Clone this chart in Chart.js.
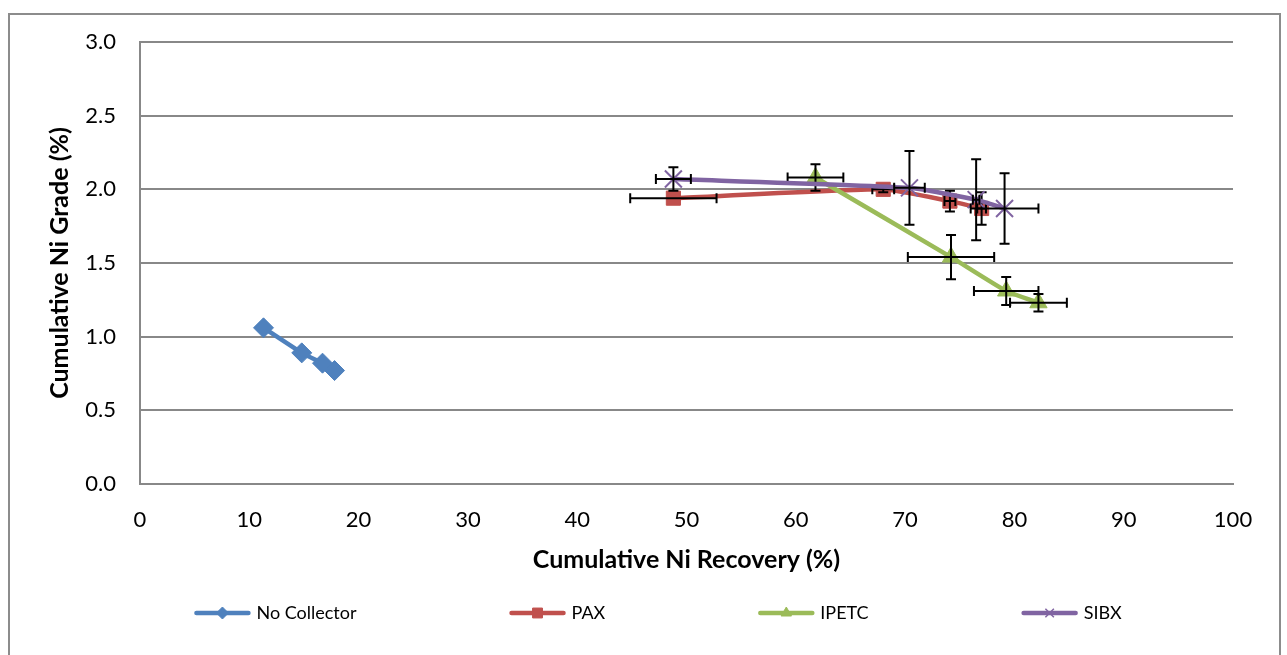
<!DOCTYPE html>
<html>
<head>
<meta charset="utf-8">
<script src="https://cdn.jsdelivr.net/npm/chart.js@4/dist/chart.umd.min.js"></script>
<style>
  html, body { margin:0; padding:0; background:#fff; }
  #wrap { position:relative; width:1287px; height:655px; overflow:hidden; }
  #frame { position:absolute; left:8px; top:13px; width:1273px; height:700px; border:2px solid #8c8c8c; box-sizing:border-box; pointer-events:none; }
  canvas { position:absolute; left:0; top:0; }
</style>
</head>
<body>
<div id="wrap">
  <div id="frame"></div>
  <canvas id="c" width="1287" height="655"></canvas>
</div>
<script>
// ---- Data ----
const seriesNames = ['No Collector', 'PAX', 'IPETC', 'SIBX'];

const noCollectorX = [11.3, 14.8, 16.7, 17.8];
const noCollectorY = [1.06, 0.89, 0.82, 0.77];

const paxX    = [48.8, 68.0, 74.1, 77.0];
const paxY    = [1.94, 2.00, 1.92, 1.87];
const paxXErr = [3.95, 1.0, 0.5, 0.4];
const paxYErr = [0.0, 0.02, 0.07, 0.11];

const ipetcX    = [61.8, 74.2, 79.25, 82.2];
const ipetcY    = [2.08, 1.54, 1.31, 1.23];
const ipetcXErr = [2.55, 3.95, 2.95, 2.6];
const ipetcYErr = [0.09, 0.15, 0.095, 0.06];

const sibxX    = [48.8, 70.4, 76.5, 79.1];
const sibxY    = [2.07, 2.01, 1.93, 1.87];
const sibxXErr = [1.6, 1.4, 0.3, 3.1];
const sibxYErr = [0.08, 0.25, 0.275, 0.24];

const xTicks = [0, 10, 20, 30, 40, 50, 60, 70, 80, 90, 100];
const yTicks = [0.0, 0.5, 1.0, 1.5, 2.0, 2.5, 3.0];

const colors = ['#4F81BD', '#C0504D', '#9BBB59', '#8064A2'];
const FONT = 'Lato, "Open Sans", sans-serif';

function pts(xs, ys) { return xs.map((x, i) => ({ x: x, y: ys[i] })); }

// ---- Error bars drawn through the chart's scales ----
const errorBars = {
  id: 'errorBars',
  afterDatasetDraw(chart, args) {
    const ds = chart.data.datasets[args.index];
    if (!ds.errX && !ds.errY) return;
    const xs = chart.scales.x, ys = chart.scales.y, ctx = chart.ctx;
    ctx.save();
    ctx.strokeStyle = '#000';
    ctx.lineWidth = 2;
    const cap = 5;
    ds.data.forEach((p, i) => {
      const ex = ds.errX ? ds.errX[i] : 0;
      const ey = ds.errY ? ds.errY[i] : 0;
      const cx = xs.getPixelForValue(p.x), cy = ys.getPixelForValue(p.y);
      ctx.beginPath();
      if (ex) {
        const l = xs.getPixelForValue(p.x - ex), r = xs.getPixelForValue(p.x + ex);
        ctx.moveTo(l, cy); ctx.lineTo(r, cy);
        ctx.moveTo(l, cy - cap); ctx.lineTo(l, cy + cap);
        ctx.moveTo(r, cy - cap); ctx.lineTo(r, cy + cap);
      }
      if (ey) {
        const t = ys.getPixelForValue(p.y + ey), b = ys.getPixelForValue(p.y - ey);
        ctx.moveTo(cx, t); ctx.lineTo(cx, b);
        ctx.moveTo(cx - cap, t); ctx.lineTo(cx + cap, t);
        ctx.moveTo(cx - cap, b); ctx.lineTo(cx + cap, b);
      }
      ctx.stroke();
    });
    ctx.restore();
  }
};

// ---- Custom legend (line + marker, widely spaced like the reference) ----
const lineLegend = {
  id: 'lineLegend',
  afterDraw(chart) {
    const ctx = chart.ctx;
    const dsets = chart.data.datasets;
    const lineLen = 56, gapText = 6, gapItem = 153, cy = 613;
    ctx.save();
    ctx.font = '18px ' + FONT;
    const widths = dsets.map(d => lineLen + gapText + ctx.measureText(d.label).width);
    const total = widths.reduce((a, b) => a + b, 0) + gapItem * (dsets.length - 1);
    let x = 658 - total / 2;
    dsets.forEach((d, i) => {
      ctx.strokeStyle = d.borderColor;
      ctx.fillStyle = d.borderColor;
      ctx.lineWidth = 4.5;
      ctx.lineCap = 'round';
      ctx.beginPath(); ctx.moveTo(x + 2, cy); ctx.lineTo(x + lineLen - 2, cy); ctx.stroke();
      ctx.lineCap = 'butt';
      ctx.lineWidth = d.pointStyle === 'crossRot' ? 1.5 : 1;
      Chart.helpers.drawPoint(ctx, { pointStyle: d.pointStyle, radius: d.legendRadius, borderWidth: ctx.lineWidth, rotation: 0 }, x + lineLen / 2, cy);
      ctx.fillStyle = '#000';
      ctx.textBaseline = 'middle';
      ctx.textAlign = 'left';
      ctx.fillText(d.label, x + lineLen + gapText, cy);
      x += widths[i] + gapItem;
    });
    ctx.restore();
  }
};

function makeSet(i, xs, ys, style, radius, legendRadius, errX, errY, order) {
  return {
    label: seriesNames[i],
    data: pts(xs, ys),
    borderColor: colors[i],
    backgroundColor: colors[i],
    pointBackgroundColor: colors[i],
    pointBorderColor: colors[i],
    borderWidth: 4.5,
    pointStyle: style,
    pointRadius: radius,
    pointHoverRadius: radius,
    pointBorderWidth: style === 'crossRot' ? 2 : 1,
    showLine: true,
    tension: 0.15,
    legendRadius: legendRadius,
    errX: errX, errY: errY,
    order: order
  };
}

const datasets = [
  makeSet(0, noCollectorX, noCollectorY, 'rectRot', 10, 6, null, null, 4),
  makeSet(1, paxX, paxY, 'rect', 10, 7, paxXErr, paxYErr, 3),
  makeSet(2, ipetcX, ipetcY, 'triangle', 10, 6, ipetcXErr, ipetcYErr, 2),
  makeSet(3, sibxX, sibxY, 'crossRot', 12, 6, sibxXErr, sibxYErr, 1)
];

const gridCol = '#888888';

new Chart(document.getElementById('c'), {
  type: 'scatter',
  data: { datasets: datasets },
  plugins: [errorBars, lineLegend],
  options: {
    responsive: false,
    animation: false,
    devicePixelRatio: 1,
    layout: { padding: { top: 42, right: 54, left: 0, bottom: 70 } },
    plugins: { legend: { display: false }, tooltip: { enabled: false } },
    scales: {
      x: {
        type: 'linear', min: 0, max: 100,
        afterBuildTicks: s => { s.ticks = xTicks.map(v => ({ value: v })); },
        afterFit: s => { s.height = 101; },
        grid: { display: false, drawTicks: false },
        border: { display: true, color: gridCol, width: 2 },
        ticks: { color: '#000', font: { family: FONT, size: 22 }, padding: 23, maxRotation: 0 },
        title: { display: true, text: 'Cumulative Ni Recovery (%)', color: '#000',
                 font: { family: FONT, size: 25, weight: 'bold' }, padding: { top: 0, bottom: 10 } }
      },
      y: {
        type: 'linear', min: 0, max: 3,
        afterBuildTicks: s => { s.ticks = yTicks.map(v => ({ value: v })); },
        afterFit: s => { s.width = 140; },
        grid: { display: true, color: gridCol, lineWidth: 2, drawTicks: false },
        border: { display: true, color: gridCol, width: 2 },
        ticks: { color: '#000', font: { family: FONT, size: 22 }, padding: 24, callback: v => Number(v).toFixed(1) },
        title: { display: true, text: 'Cumulative Ni Grade (%)', color: '#000',
                 font: { family: FONT, size: 25, weight: 'bold' }, padding: { top: 45, bottom: 0 } }
      }
    }
  }
});
</script>
</body>
</html>
